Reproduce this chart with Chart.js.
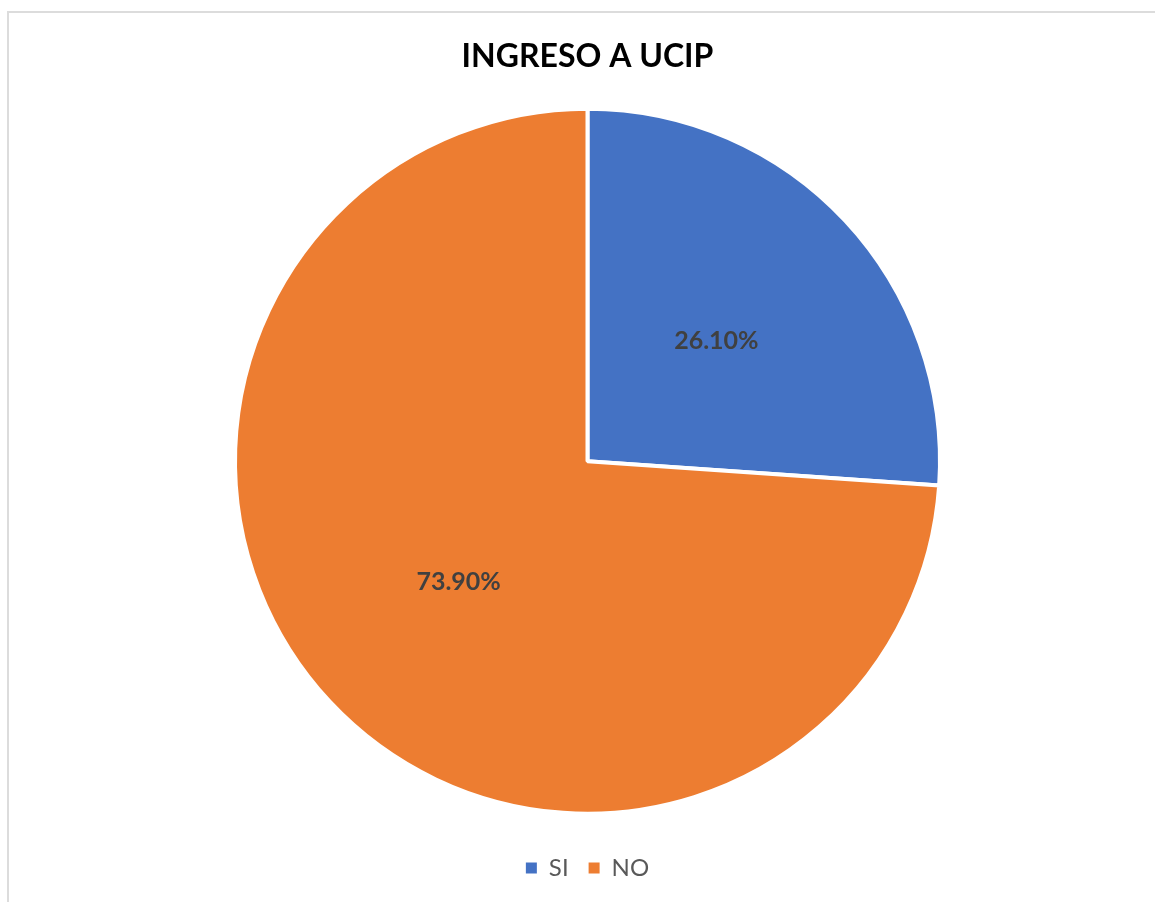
<!DOCTYPE html>
<html>
<head>
<meta charset="utf-8">
<title>INGRESO A UCIP</title>
<script src="https://cdn.jsdelivr.net/npm/chart.js@4/dist/chart.umd.min.js"></script>
<style>
    html, body { margin: 0; padding: 0; background: #fff; }
    body { width: 1155px; height: 902px; position: relative; overflow: hidden; }
    /* light frame of the chart box */
    #frame {
        position: absolute; left: 7px; top: 11px; right: -10px; bottom: -10px;
        border-left: 2px solid #dcdcdc; border-top: 2px solid #dcdcdc;
    }
    #wrap { position: absolute; left: 0; top: 0; width: 1155px; height: 902px; }
</style>
</head>
<body>
<div id="frame"></div>
<div id="wrap"><canvas id="ucip-chart"></canvas></div>
<script>
// Data
const categories = ['SI', 'NO'];
const percentages = [26.1, 73.9];
const sliceColors = ['#4472C4', '#ED7D31'];

const FONT = "Lato, 'Open Sans', sans-serif";

// Percentage labels drawn at the middle of every slice
const sliceLabels = {
    id: 'sliceLabels',
    afterDatasetsDraw(chart) {
        const ctx = chart.ctx;
        const meta = chart.getDatasetMeta(0);
        ctx.save();
        ctx.font = `bold 25px ${FONT}`;
        ctx.fillStyle = '#404040';
        ctx.textAlign = 'center';
        ctx.textBaseline = 'middle';
        meta.data.forEach((arc, i) => {
            const pos = arc.tooltipPosition();
            const value = chart.data.datasets[0].data[i];
            ctx.fillText(value.toFixed(2) + '%', pos.x, pos.y);
        });
        ctx.restore();
    }
};

const ctx = document.getElementById('ucip-chart').getContext('2d');
new Chart(ctx, {
    type: 'pie',
    data: {
        labels: categories,
        datasets: [{
            data: percentages,
            backgroundColor: sliceColors,
            borderColor: '#ffffff',
            borderWidth: 4,
            radius: 352.5
        }]
    },
    options: {
        responsive: true,
        maintainAspectRatio: false,
        animation: false,
        layout: { padding: { left: 20, right: 0, top: 0, bottom: 12 } },
        plugins: {
            title: {
                display: true,
                text: 'INGRESO A UCIP',
                color: '#000000',
                font: { family: FONT, size: 32, weight: 'bold', lineHeight: 1.2 },
                padding: { top: 37, bottom: 11 }
            },
            legend: {
                position: 'bottom',
                labels: {
                    boxWidth: 11,
                    boxHeight: 11,
                    padding: 20,
                    color: '#595959',
                    font: { family: FONT, size: 24 },
                    // plain filled squares, without the white slice border
                    generateLabels(chart) {
                        const items = Chart.controllers.pie.overrides.plugins.legend.labels.generateLabels(chart);
                        return items.map(item => ({ ...item, lineWidth: 0, strokeStyle: 'transparent' }));
                    }
                }
            },
            tooltip: { enabled: false }
        }
    },
    plugins: [sliceLabels]
});
</script>
</body>
</html>
